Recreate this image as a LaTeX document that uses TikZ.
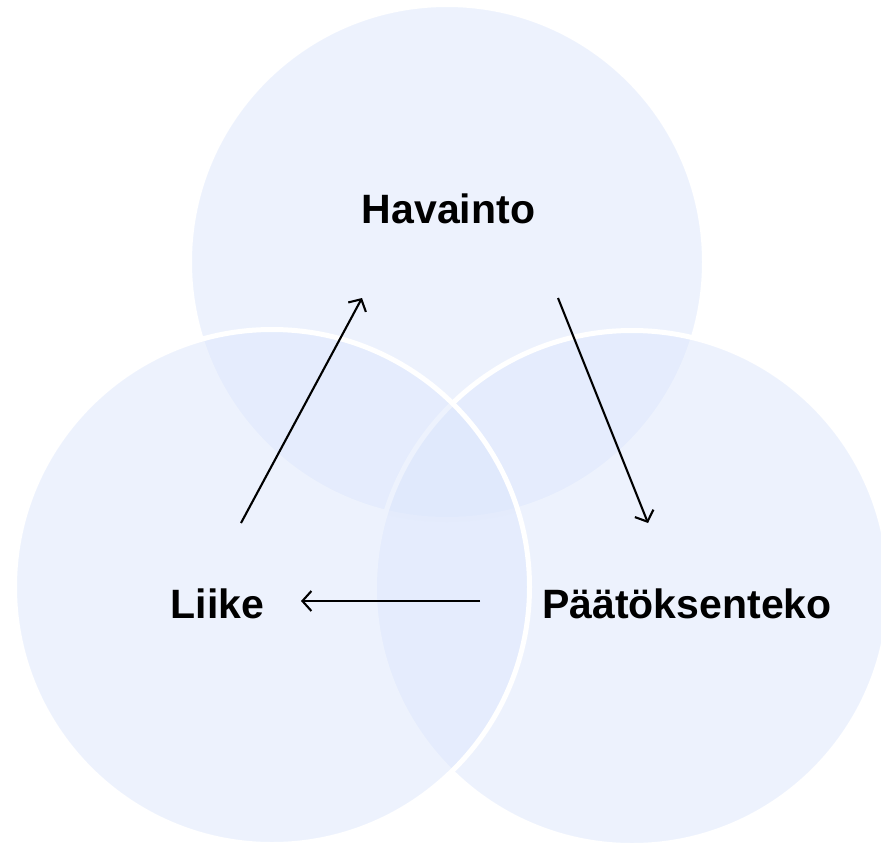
\documentclass[tikz,border=0pt]{standalone}
\usepackage{fontspec}
\setmainfont{Liberation Sans}
\usetikzlibrary{arrows.meta}
\definecolor{circfill}{RGB}{220,230,252}
\tikzset{
  bubble/.style={circle, draw=white, line width=5pt, fill=circfill, fill opacity=0.5, draw opacity=1, minimum size=515pt, inner sep=0pt},
  lbl/.style={font=\fontsize{41}{48}\selectfont\bfseries, anchor=base, inner sep=0pt, text=black},
  flow/.style={draw=black, line width=2.1pt, -{Straight Barb[length=9pt,width=20pt,line width=2.1pt]}}
}
\begin{document}
\begin{tikzpicture}[x=1pt,y=-1pt]
\useasboundingbox (0,0) rectangle (881,844);
\node[bubble] (top) at (447,262) {};
\node[bubble] (right) at (632,588) {};
\node[bubble] (left) at (272,587) {};
\node[lbl] (hav) at (448.5,223) {Havainto};
\node[lbl] (lii) at (217.5,618) {Liike};
\node[lbl] (pat) at (687,618) {Päätöksenteko};
\coordinate (a1s) at (241,523);
\coordinate (a1e) at (362,298);
\coordinate (a2s) at (558,298);
\coordinate (a2e) at (648,523);
\coordinate (a3s) at (480,601);
\coordinate (a3e) at (301,601);
\draw[flow] (a1s) -- (a1e);
\draw[flow] (a2s) -- (a2e);
\draw[flow] (a3s) -- (a3e);
\end{tikzpicture}
\end{document}
